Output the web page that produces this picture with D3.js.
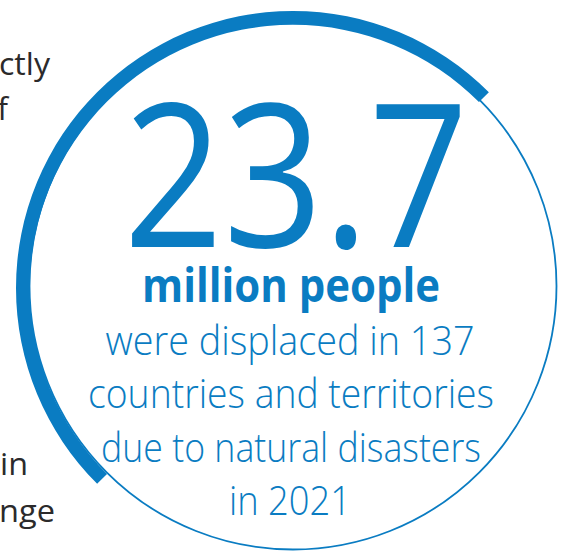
<!DOCTYPE html>
<html><head><meta charset="utf-8">
<script src="https://cdn.jsdelivr.net/npm/d3@7"></script>
<style>html,body{margin:0;padding:0;background:#fff;overflow:hidden}</style>
</head><body>
<svg id="c" width="561" height="551"></svg>
<script>
// ---- data ----
const headlineValue = ["23.7"];
const headlineUnit = ["million people"];
const bodyLines = ["were displaced in 137", "countries and territories", "due to natural disasters", "in 2021"];
const sideLines = ["ctly", "of", "in", "nge", "to"];
const arcSpanDeg = [-135, 45];

// ---- layout ----
const W = 561, H = 551;
const blue = "#0a7cc2";
const svg = d3.select("#c");

const cx = 293, cy = 286, rThin = 263.5;
const acx = 293, acy = 288, rIn = 263, rOut = 277;

svg.append("circle")
  .attr("cx", cx).attr("cy", cy).attr("r", rThin)
  .attr("fill", "none").attr("stroke", blue).attr("stroke-width", 1.8);

const angle = d3.scaleLinear().domain([0, 360]).range([0, 2 * Math.PI]);
const arc = d3.arc().innerRadius(rIn).outerRadius(rOut)
  .startAngle(angle(arcSpanDeg[0])).endAngle(angle(arcSpanDeg[1]));
svg.append("path").attr("d", arc()).attr("transform", `translate(${acx},${acy})`).attr("fill", blue);

function fit(t, width) {
  const n = t.node();
  const w = n.getComputedTextLength();
  if (w > 0) t.attr("textLength", width).attr("lengthAdjust", "spacingAndGlyphs");
}

// headline
const big = svg.append("text").text(headlineValue[0])
  .attr("x", 296).attr("y", 247).attr("text-anchor", "middle")
  .attr("font-family", "'Open Sans', sans-serif").attr("font-size", 199)
  .attr("fill", blue);
fit(big, 345);

const unit = svg.append("text").text(headlineUnit[0])
  .attr("x", 291).attr("y", 302).attr("text-anchor", "middle")
  .attr("font-family", "'Open Sans', sans-serif").attr("font-weight", 700).attr("font-size", 46)
  .attr("fill", blue);
fit(unit, 298);

const bodyY = [355, 408, 462, 515];
const bodyW = [369, 406, 380, 122];
const bodyX = [290, 291, 291, 290];
bodyLines.forEach((s, i) => {
  const t = svg.append("text").text(s)
    .attr("x", bodyX[i]).attr("y", bodyY[i]).attr("text-anchor", "middle")
    .attr("font-family", "'Open Sans', sans-serif").attr("font-weight", 300).attr("font-size", 41)
    .attr("fill", blue);
  fit(t, bodyW[i]);
});

// side text (cut off at left edge in the source)
const sideX = [-1, 8, 0, -1, 23];
const sideY = [75, 120, 475, 522, 572];
const sideAnchor = ["start", "end", "start", "start", "start"];
const sideW = [51, null, 28, 56, null];
sideLines.forEach((s, i) => {
  const t = svg.append("text").text(s)
    .attr("x", sideX[i]).attr("y", sideY[i]).attr("text-anchor", sideAnchor[i])
    .attr("font-family", "'Open Sans', sans-serif").attr("font-size", 31)
    .attr("fill", "#2b2a2b");
  if (sideW[i]) fit(t, sideW[i]);
});
</script>
</body></html>
